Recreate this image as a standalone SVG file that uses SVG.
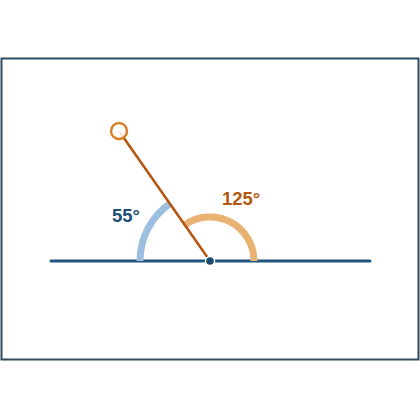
<svg xmlns="http://www.w3.org/2000/svg" width="420" height="420" viewBox="0 0 420 420">
<style>
.lbl{font-family:"Liberation Sans",Arial,sans-serif;font-weight:bold;font-size:18.5px}
</style>
<rect width="420" height="420" fill="#ffffff"/>
<rect x="1.5" y="58.5" width="417" height="301" fill="#ffffff" stroke="#2e4a5f" stroke-width="2"/>
<g id="connectors">
<line x1="51" y1="261" x2="370" y2="261" stroke="#1f5580" stroke-width="3" stroke-linecap="round"/>
<path d="M140,261 A70,70 0 0 1 169.85,203.66" fill="none" stroke="#9dbfdf" stroke-width="7"/>
<path d="M184.76,224.96 A44,44 0 0 1 254,261" fill="none" stroke="#e9b272" stroke-width="7"/>
<line x1="210" y1="261" x2="119" y2="131" stroke="#b4540f" stroke-width="2.5"/>
</g>
<g id="vertex"><circle cx="210" cy="261" r="4.5" fill="#1a4a73" stroke="#ffffff" stroke-width="1.5"/></g>
<g id="handle"><circle cx="119" cy="131" r="8" fill="#ffffff" fill-opacity="0.85" stroke="#d9822b" stroke-width="2.5"/></g>
<g id="label55"><text class="lbl" x="112" y="222" fill="#1f4e79">55°</text></g>
<g id="label125"><text class="lbl" x="222" y="205" fill="#b5580f">125°</text></g>
</svg>
